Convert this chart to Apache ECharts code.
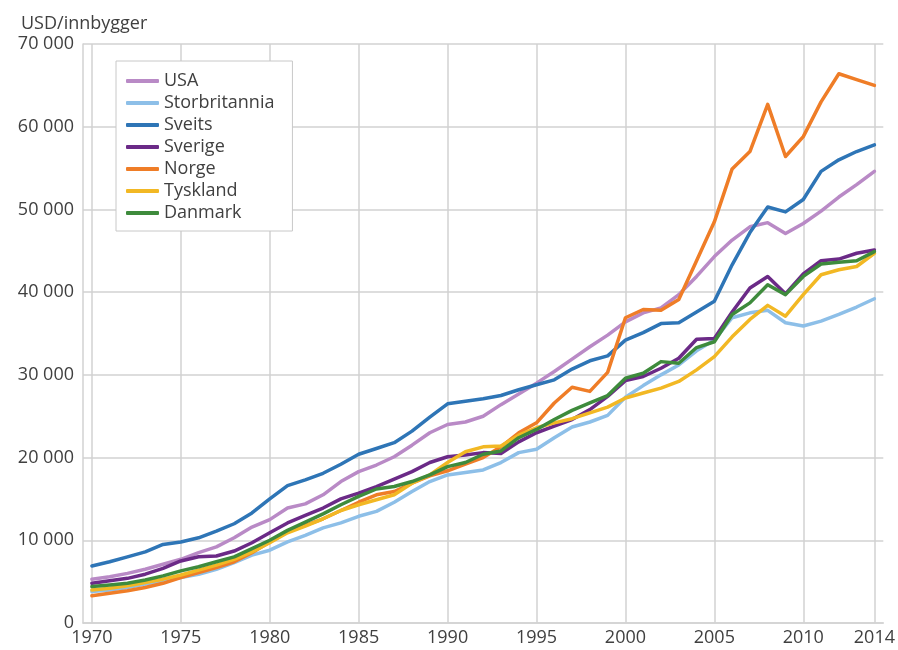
<!DOCTYPE html>
<html>
<head>
<meta charset="utf-8">
<script src="https://cdn.jsdelivr.net/npm/echarts@6/dist/echarts.min.js"></script>
<style>
  html, body { margin: 0; padding: 0; background: #fff; }
  #chart-container { width: 898px; height: 650px; }
</style>
</head>
<body>
<div id="chart-container"></div>
<script>
// years 1970 - 2014
var years = [];
for (var y = 1970; y <= 2014; y++) years.push(y);

var xTickYears = [1970, 1975, 1980, 1985, 1990, 1995, 2000, 2005, 2010, 2014];

var usa = [5300, 5600, 6000, 6500, 7100, 7700, 8500, 9200, 10300, 11600,
  12500, 13900, 14400, 15500, 17100, 18300, 19100, 20100, 21500, 23000,
  24000, 24300, 25000, 26400, 27700, 29000, 30400, 31900, 33400, 34800,
  36400, 37500, 38100, 39700, 41900, 44300, 46300, 47900, 48400, 47100,
  48300, 49800, 51500, 53000, 54600];
var storbritannia = [3800, 4000, 4300, 4700, 5100, 5500, 5900, 6500, 7300, 8200,
  8800, 9800, 10600, 11500, 12100, 12900, 13500, 14600, 15900, 17100,
  17900, 18200, 18500, 19400, 20600, 21000, 22400, 23700, 24300, 25100,
  27300, 28700, 30000, 31200, 32900, 34200, 36900, 37500, 37800, 36300,
  35900, 36500, 37300, 38200, 39200];
var sveits = [6900, 7400, 8000, 8600, 9500, 9800, 10300, 11100, 12000, 13300,
  15000, 16600, 17300, 18100, 19200, 20400, 21100, 21800, 23200, 24900,
  26500, 26800, 27100, 27500, 28200, 28800, 29400, 30700, 31700, 32300,
  34200, 35100, 36200, 36300, 37600, 38900, 43300, 47200, 50300, 49700,
  51200, 54600, 56000, 57000, 57800];
var sverige = [4800, 5100, 5400, 5900, 6600, 7500, 8000, 8100, 8700, 9700,
  10900, 12100, 13000, 13900, 15000, 15700, 16500, 17400, 18300, 19400,
  20100, 20300, 20600, 20500, 21900, 23000, 23800, 24600, 25800, 27400,
  29300, 29800, 30800, 32000, 34300, 34400, 37600, 40500, 41900, 39800,
  42200, 43800, 44000, 44700, 45100];
var norge = [3300, 3600, 3900, 4300, 4800, 5500, 6100, 6700, 7400, 8500,
  9800, 11000, 11800, 12600, 13600, 14600, 15500, 15900, 16900, 17800,
  18400, 19200, 20000, 21300, 23000, 24200, 26600, 28500, 28000, 30300,
  36900, 37900, 37800, 39100, 43800, 48500, 54900, 57000, 62700, 56400,
  58800, 63000, 66400, 65700, 65000];
var tyskland = [4000, 4200, 4500, 4900, 5300, 5800, 6400, 7000, 7700, 8600,
  9700, 10900, 11700, 12600, 13600, 14300, 14900, 15500, 16900, 17900,
  19400, 20700, 21300, 21400, 22700, 23600, 24200, 24700, 25400, 26100,
  27200, 27800, 28400, 29200, 30600, 32200, 34600, 36700, 38400, 37100,
  39700, 42100, 42700, 43100, 44700];
var danmark = [4400, 4600, 4800, 5200, 5700, 6300, 6800, 7400, 8000, 9000,
  10000, 11200, 12200, 13200, 14300, 15300, 16200, 16500, 17100, 17900,
  18900, 19400, 20400, 20800, 22400, 23400, 24600, 25700, 26600, 27500,
  29600, 30200, 31600, 31400, 33300, 34000, 37300, 38700, 40900, 39700,
  41900, 43400, 43600, 43800, 44900];

var names = ["USA", "Storbritannia", "Sveits", "Sverige", "Norge", "Tyskland", "Danmark"];
var values = [usa, storbritannia, sveits, sverige, norge, tyskland, danmark];
var colors = ["#B98AC6", "#8DBFE8", "#2E75B6", "#6B2A87", "#EF7D27", "#F2B824", "#3E8B3C"];

var textColor = "#404040";
var gridColor = "#d2d2d2";

var dom = document.getElementById("chart-container");
var myChart = echarts.init(dom, null, { renderer: "canvas" });

var series = names.map(function (name, i) {
  return {
    name: name,
    type: "line",
    showSymbol: false,
    symbol: "none",
    data: years.map(function (yr, j) { return [yr, values[i][j]]; }),
    lineStyle: { width: 3.5, color: colors[i], cap: "round", join: "round" },
    itemStyle: { color: colors[i] },
    emphasis: { disabled: true }
  };
});

var option = {
  animation: false,
  color: colors,
  textStyle: { fontFamily: "Open Sans" },
  title: {
    text: "USD/innbygger",
    left: 16,
    top: 10,
    textStyle: { fontSize: 18, fontWeight: "normal", color: textColor, fontFamily: "Open Sans" }
  },
  legend: {
    orient: "vertical",
    left: 116,
    top: 61,
    padding: [11, 18, 9, 10],
    itemGap: 4,
    itemWidth: 33,
    itemHeight: 4,
    icon: "roundRect",
    borderColor: "#c8c8c8",
    borderWidth: 1,
    backgroundColor: "#fff",
    data: names,
    textStyle: { fontSize: 18, lineHeight: 18, color: textColor, fontFamily: "Open Sans" }
  },
  grid: { left: 83, right: 14, top: 44, bottom: 27, containLabel: false },
  xAxis: {
    type: "value",
    min: 1969.5,
    max: 2014.5,
    axisLine: { show: true, lineStyle: { color: gridColor, width: 1.5 } },
    axisTick: { show: false, customValues: xTickYears },
    axisLabel: {
      customValues: xTickYears,
      formatter: function (v) { return String(v); },
      fontSize: 18,
      color: textColor,
      margin: 6,
      fontFamily: "Open Sans"
    },
    splitLine: { show: true, lineStyle: { color: gridColor, width: 1.5 } }
  },
  yAxis: {
    type: "value",
    min: 0,
    max: 70000,
    interval: 10000,
    axisLine: { show: true, lineStyle: { color: gridColor, width: 1.5 } },
    axisTick: { show: false },
    axisLabel: {
      formatter: function (v) { return v === 0 ? "0" : (v / 1000) + " 000"; },
      fontSize: 18,
      color: textColor,
      margin: 9,
      fontFamily: "Open Sans"
    },
    splitLine: { show: true, lineStyle: { color: gridColor, width: 1.5 } }
  },
  series: series
};

myChart.setOption(option);
window.addEventListener("resize", myChart.resize);
</script>
</body>
</html>
